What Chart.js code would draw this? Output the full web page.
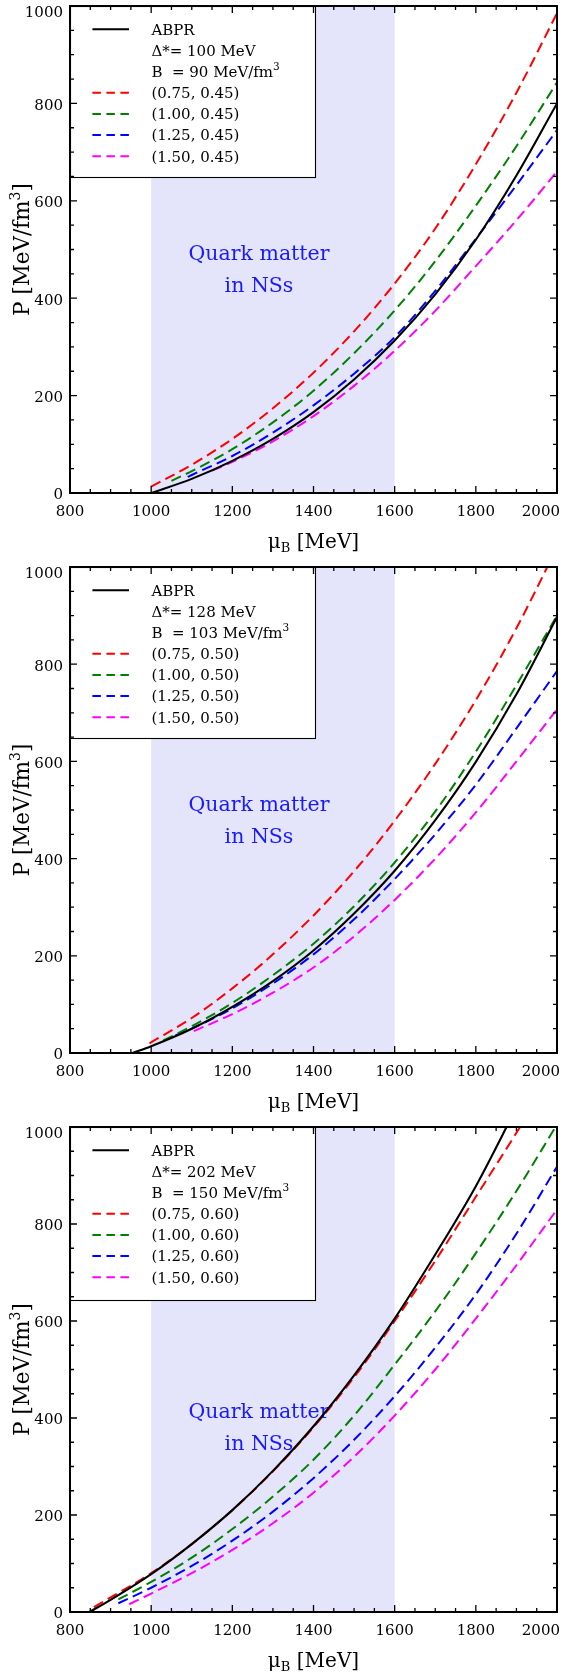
<!DOCTYPE html>
<html><head><meta charset="utf-8">
<script src="https://cdn.jsdelivr.net/npm/chart.js@4.4.0/dist/chart.umd.min.js"></script>
<style>
html,body{margin:0;padding:0;background:#fff;}
#wrap{position:relative;width:564px;height:1677px;overflow:hidden;background:#fff;}
canvas{position:absolute;left:0;}
</style></head><body>
<div id="wrap">
<canvas id="c0" width="564" height="560" style="top:0px"></canvas>
<canvas id="c1" width="564" height="560" style="top:560px"></canvas>
<canvas id="c2" width="564" height="557" style="top:1120px"></canvas>
</div>
<script>
// ---------- data ----------
const xTicks = [800, 1000, 1200, 1400, 1600, 1800, 2000];
const yTicks = [0, 200, 400, 600, 800, 1000];
const bandRange = [1000, 1600];
const seriesNames = ['ABPR', '(0.75, X)', '(1.00, X)', '(1.25, X)', '(1.50, X)'];
const secondParam = ['0.45', '0.50', '0.60'];
const deltaValues = ['100', '128', '202'];
const bagValues = ['90', '103', '150'];

// Panel 1
const p1AbprMu = [1000,1100,1200,1300,1400,1500,1600,1700,1800,1900,2000];
const p1AbprP  = [0,29,66,111,166,233,313,408,520,652,800];
const p1RedMu  = [1000,1100,1200,1300,1400,1500,1600,1700,1800,1900,2000];
const p1RedP   = [13,58,111,174,247,332,430,543,675,822,985];
const p1GreenMu = [1050,1100,1200,1300,1400,1500,1600,1700,1800,1900,2000];
const p1GreenP  = [25,45,90,145,210,287,375,476,590,712,843];
const p1BlueMu  = [1090,1100,1200,1300,1400,1500,1600,1700,1800,1900,2000];
const p1BlueP   = [33,37,76,124,180,245,320,415,522,632,745];
const p1MagMu   = [1150,1200,1300,1400,1500,1600,1700,1800,1900,2000];
const p1MagP    = [46,64,106,158,220,292,374,466,560,660];

// Panel 2
const p2AbprMu = [954,1000,1100,1200,1300,1400,1500,1600,1700,1800,1900,2000];
const p2AbprP  = [0,14,50,95,148,211,287,375,479,599,738,897];
const p2RedMu  = [996,1100,1200,1300,1400,1500,1600,1700,1800,1900,2000];
const p2RedP   = [20,72,133,203,283,374,478,595,726,874,1040];
const p2GreenMu = [1030,1100,1200,1300,1400,1500,1600,1700,1800,1900,2000];
const p2GreenP  = [26,55,103,160,225,302,392,497,620,757,900];
const p2BlueMu  = [1060,1100,1200,1300,1400,1500,1600,1700,1800,1900,2000];
const p2BlueP   = [36,50,92,143,203,275,358,450,552,668,786];
const p2MagMu   = [1105,1200,1300,1400,1500,1600,1700,1800,1900,2000];
const p2MagP    = [45,80,124,176,240,315,400,495,600,707];

// Panel 3
const p3AbprMu = [848,900,1000,1100,1200,1300,1400,1500,1600,1700,1800,1900];
const p3AbprP  = [0,25,78,140,210,291,383,488,605,737,878,1040];
const p3RedMu  = [859,900,1000,1100,1200,1300,1400,1500,1600,1700,1800,1900,2000];
const p3RedP   = [10,30,80,140,210,290,381,484,600,724,856,988,1125];
const p3GreenMu = [919,1000,1100,1200,1300,1400,1500,1600,1700,1800,1900,2000];
const p3GreenP  = [26,62,112,171,238,314,405,510,620,740,868,1005];
const p3BlueMu  = [919,1000,1100,1200,1300,1400,1500,1600,1700,1800,1900,2000];
const p3BlueP   = [18,50,95,147,207,276,355,445,545,655,780,918];
const p3MagMu   = [946,1000,1100,1200,1300,1400,1500,1600,1700,1800,1900,2000];
const p3MagP    = [16,38,80,128,183,246,320,405,500,605,715,830];

// ---------- styling ----------
const FONT = "'DejaVu Serif', 'Liberation Serif', serif";
const COLORS = ['#000000', '#ff0000', '#008000', '#0000ff', '#ff00ff'];
const BAND_COLOR = 'rgb(228,228,250)';
const QUARK_COLOR = '#1a1aff';

function pts(mu, p) { return mu.map((m, i) => ({ x: m, y: p[i] })); }

function richWidth(ctx, segs) {
  let w = 0;
  for (const s of segs) { ctx.font = s.size + 'px ' + FONT; w += ctx.measureText(s.t).width; }
  return w;
}
function drawRich(ctx, segs, x, y, align) {
  const w = richWidth(ctx, segs);
  let cx = align === 'center' ? x - w / 2 : (align === 'right' ? x - w : x);
  ctx.textAlign = 'left'; ctx.textBaseline = 'alphabetic';
  for (const s of segs) {
    ctx.font = s.size + 'px ' + FONT;
    ctx.fillText(s.t, cx, y + (s.dy || 0));
    cx += ctx.measureText(s.t).width;
  }
}

const paperPlugin = {
  id: 'paper',
  beforeDatasetsDraw(chart, args, o) {
    const { ctx, chartArea: a, scales: { x } } = chart;
    ctx.save();
    const x0 = x.getPixelForValue(bandRange[0]), x1 = x.getPixelForValue(bandRange[1]);
    ctx.fillStyle = BAND_COLOR;
    ctx.fillRect(x0, a.top, x1 - x0, a.bottom - a.top);
    ctx.fillStyle = QUARK_COLOR;
    ctx.font = '20.5px ' + FONT;
    ctx.textAlign = 'center'; ctx.textBaseline = 'alphabetic';
    ctx.fillText('Quark matter', a.left + 189, a.top + o.qy);
    ctx.fillText('in NSs', a.left + 189, a.top + o.qy + 32);
    ctx.restore();
  },
  afterDatasetsDraw(chart, args, o) {
    const { ctx, chartArea: a, scales: { x, y } } = chart;
    ctx.save();
    // legend box
    const lw = 245, lh = o.legH;
    ctx.fillStyle = '#fff';
    ctx.fillRect(a.left, a.top, lw, lh);
    ctx.strokeStyle = '#000'; ctx.lineWidth = 1.1;
    ctx.strokeRect(a.left + 0.5, a.top + 0.5, lw, lh);
    const rows = [
      { line: 0, segs: [{ t: seriesNames[0], size: 15 }] },
      { segs: [{ t: 'Δ*= ' + deltaValues[o.idx] + ' MeV', size: 15 }] },
      { segs: [{ t: 'B  = ' + bagValues[o.idx] + ' MeV/fm', size: 15 }, { t: '3', size: 10.5, dy: -7 }] },
    ];
    for (let k = 1; k < 5; k++) {
      rows.push({ line: k, segs: [{ t: seriesNames[k].replace('X', secondParam[o.idx]), size: 15 }] });
    }
    rows.forEach((r, i) => {
      const cy = a.top + 23.3 + 21.15 * i;
      if (r.line !== undefined) {
        ctx.strokeStyle = COLORS[r.line]; ctx.lineWidth = 2;
        ctx.setLineDash(r.line === 0 ? [] : [8.5, 5.5]);
        ctx.beginPath(); ctx.moveTo(a.left + 22.4, cy); ctx.lineTo(a.left + 59, cy); ctx.stroke();
        ctx.setLineDash([]);
      }
      ctx.fillStyle = '#000';
      drawRich(ctx, r.segs, a.left + 81.4, cy + 5.4, 'left');
    });

    // frame
    ctx.strokeStyle = '#000'; ctx.lineWidth = 2;
    ctx.strokeRect(a.left, a.top, a.right - a.left, a.bottom - a.top);
    // ticks
    ctx.lineWidth = 1.3;
    ctx.beginPath();
    for (let v = xTicks[0]; v <= xTicks[xTicks.length - 1]; v += 50) {
      const px = x.getPixelForValue(v);
      const len = (v % 200 === 0) ? 7 : 4;
      ctx.moveTo(px, a.bottom); ctx.lineTo(px, a.bottom - len);
      ctx.moveTo(px, a.top); ctx.lineTo(px, a.top + len);
    }
    for (let v = yTicks[0]; v <= yTicks[yTicks.length - 1]; v += 50) {
      const py = y.getPixelForValue(v);
      const len = (v % 200 === 0) ? 7 : 4;
      ctx.moveTo(a.left, py); ctx.lineTo(a.left + len, py);
      ctx.moveTo(a.right, py); ctx.lineTo(a.right - len, py);
    }
    ctx.stroke();
    // tick labels
    ctx.fillStyle = '#000';
    ctx.font = '15px ' + FONT;
    ctx.textBaseline = 'alphabetic';
    ctx.textAlign = 'center';
    xTicks.forEach(v => {
      const t = String(v);
      const w = ctx.measureText(t).width;
      let px = x.getPixelForValue(v);
      px = Math.min(px, chart.width - 4 - w / 2);
      ctx.fillText(t, px, a.bottom + 22.5);
    });
    ctx.textAlign = 'right';
    yTicks.forEach(v => {
      const py = y.getPixelForValue(v);
      const base = Math.max(py + 6.3, a.top + 10.8);
      ctx.fillText(String(v), a.left - 7, base);
    });
    // axis titles
    drawRich(ctx, [{ t: 'μ', size: 20 }, { t: 'B', size: 13, dy: 3.5 }, { t: ' [MeV]', size: 20 }],
      (a.left + a.right) / 2, a.bottom + 55, 'center');
    ctx.save();
    ctx.translate(28.5, (a.top + a.bottom) / 2);
    ctx.rotate(-Math.PI / 2);
    drawRich(ctx, [{ t: 'P [MeV/fm', size: 21.5 }, { t: '3', size: 14, dy: -9 }, { t: ']', size: 21.5 }], 0, 0, 'center');
    ctx.restore();
    ctx.restore();
  }
};

function makeChart(id, idx, series, pad, qy, legH) {
  const datasets = series.map((s, k) => ({
    label: seriesNames[k].replace('X', secondParam[idx]),
    data: pts(s[0], s[1]),
    borderColor: COLORS[k],
    borderWidth: k === 0 ? 2.1 : 2,
    borderDash: k === 0 ? [] : [10.5, 5.5],
    pointRadius: 0,
    fill: false,
    cubicInterpolationMode: 'monotone'
  }));
  return new Chart(document.getElementById(id), {
    type: 'line',
    data: { datasets },
    options: {
      responsive: false,
      animation: false,
      devicePixelRatio: 1,
      layout: { padding: pad },
      scales: {
        x: { type: 'linear', min: 800, max: 2000, display: false },
        y: { type: 'linear', min: 0, max: 1000, display: false }
      },
      plugins: {
        legend: { display: false },
        tooltip: { enabled: false },
        paper: { idx, qy, legH }
      }
    },
    plugins: [paperPlugin]
  });
}

makeChart('c0', 0, [[p1AbprMu, p1AbprP], [p1RedMu, p1RedP], [p1GreenMu, p1GreenP], [p1BlueMu, p1BlueP], [p1MagMu, p1MagP]],
  { left: 70, right: 7, top: 6, bottom: 67 }, 254, 171);
makeChart('c1', 1, [[p2AbprMu, p2AbprP], [p2RedMu, p2RedP], [p2GreenMu, p2GreenP], [p2BlueMu, p2BlueP], [p2MagMu, p2MagP]],
  { left: 70, right: 7, top: 7, bottom: 67 }, 244, 171);
makeChart('c2', 2, [[p3AbprMu, p3AbprP], [p3RedMu, p3RedP], [p3GreenMu, p3GreenP], [p3BlueMu, p3BlueP], [p3MagMu, p3MagP]],
  { left: 70, right: 7, top: 7, bottom: 65 }, 291, 173);
</script>
</body></html>
